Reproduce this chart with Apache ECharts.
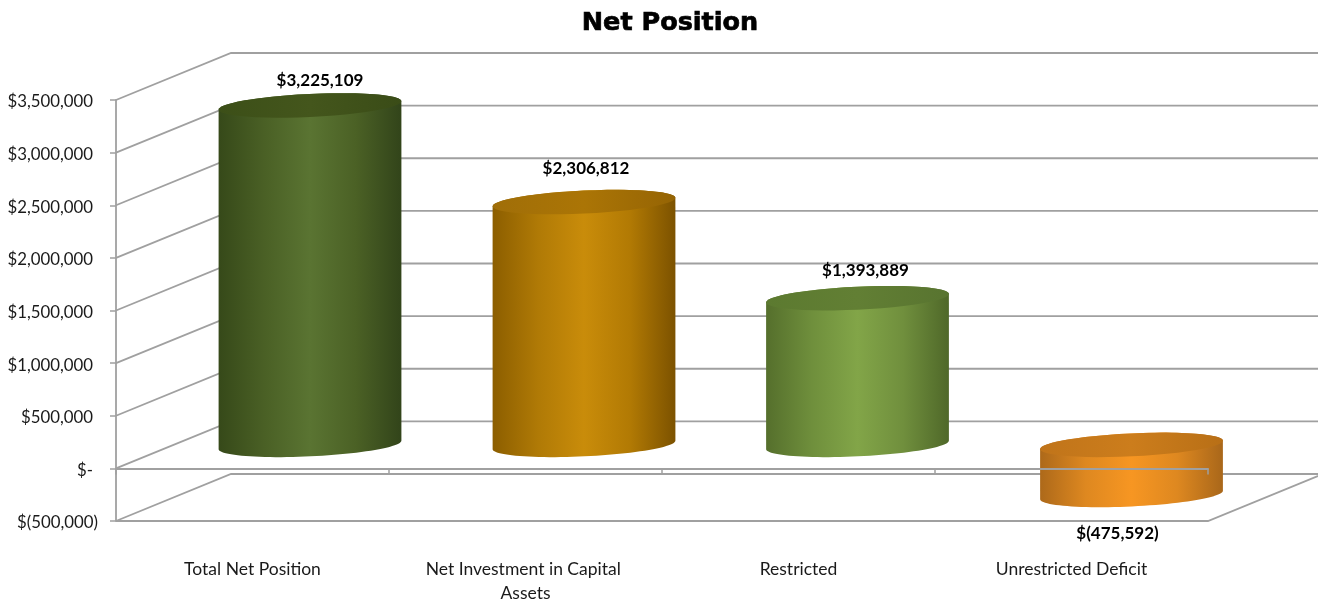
<!DOCTYPE html>
<html>
<head>
<meta charset="utf-8">
<style>html,body{margin:0;padding:0;background:#fff}#c{width:1318px;height:601px}</style>
<script src="https://cdn.jsdelivr.net/npm/echarts@6/dist/echarts.min.js"></script>
</head>
<body>
<div id="c"></div>
<script>
const categories = ['Total Net Position', 'Net Investment in Capital Assets', 'Restricted', 'Unrestricted Deficit'];
const netValues = [3225109, 2306812, 1393889, -475592];
const yTicks = [-500000, 0, 500000, 1000000, 1500000, 2000000, 2500000, 3000000, 3500000];
const chartTitle = 'Net Position';

// styling
const bodyStops = [
  ['#364919', '#4a6025', '#5a7432', '#4b6125', '#32441a'],
  ['#8c5e00', '#b07a06', '#c98c0a', '#b27a04', '#7c5200'],
  ['#556f2c', '#6f8f3c', '#82a548', '#708f3d', '#4f6829'],
  ['#ad691a', '#de8820', '#f79622', '#de8820', '#a9671a']
];
const capStops = [
  ['#3c4f18', '#44561c', '#3a4c17'],
  ['#a06e08', '#ab7506', '#956404'],
  ['#5c7a30', '#627f34', '#587430'],
  ['#c0741a', '#cc7d1c', '#b86f16']
];
const labelNudge = [[10, -25], [2, -34], [8, -28], [-14, 39]];
const cylinderNudge = [0, 1, 1.5, 2.5];
const depth = [115, -47];
const gridColor = '#a0a0a0';
const textFont = 'Lato';

function money(v) {
  const s = Math.abs(v).toLocaleString('en-US');
  return v < 0 ? '$(' + s + ')' : '$' + s;
}
function stops(list) {
  return { type: 'linear', x: 0, y: 0, x2: 1, y2: 0,
    colorStops: list.map((c, i) => ({ offset: i / (list.length - 1), color: c })) };
}
function arc(cx, cy, rx, ry, from, to) {
  const tilt = -2.7 * Math.PI / 180, pts = [];
  for (let i = 0; i <= 48; i++) {
    const t = from + (to - from) * i / 48;
    const x = rx * Math.cos(t), y = ry * Math.sin(t);
    pts.push([cx + x * Math.cos(tilt) - y * Math.sin(tilt), cy + x * Math.sin(tilt) + y * Math.cos(tilt)]);
  }
  return pts;
}

function renderWall(params, api) {
  const cs = params.coordSys;
  const v = api.value(1);
  const y = api.coord([0, v])[1];
  const left = cs.x, right = cs.x + cs.width;
  const backY = y + depth[1];
  const lineStyle = { stroke: gridColor, lineWidth: 1.8, fill: null };
  const kids = [{
    type: 'polyline',
    shape: { points: [[left, y], [left + depth[0], backY], [right + depth[0], backY]] },
    style: lineStyle
  }];
  if (v === yTicks[0]) {
    kids.push({
      type: 'polyline',
      shape: { points: [[left, y], [right, y], [right + depth[0], backY]] },
      style: lineStyle
    });
  }
  return { type: 'group', children: kids };
}

function renderCylinder(params, api) {
  const i = params.dataIndex;
  const v = api.value(1);
  const base = api.coord([i, 0]);
  const head = api.coord([i, v]);
  const band = api.size([1, 0])[0];
  const rx = band / 3 + 0.5, ry = 11.5;
  const cx = base[0] + depth[0] / 2 + cylinderNudge[i];
  const yA = Math.min(base[1], head[1]) + depth[1] / 2;
  const yB = Math.max(base[1], head[1]) + depth[1] / 2;
  const body = arc(cx, yA, rx, ry, Math.PI, 2 * Math.PI).concat(arc(cx, yB, rx, ry, 0, Math.PI));
  const cap = arc(cx, yA, rx, ry, 0, 2 * Math.PI);
  const anchorY = v >= 0 ? yA : yB;
  return {
    type: 'group',
    children: [
      { type: 'polygon', shape: { points: body }, style: { fill: stops(bodyStops[i]) } },
      { type: 'polygon', shape: { points: cap }, style: { fill: stops(capStops[i]) } },
      { type: 'text', style: {
          x: cx + labelNudge[i][0], y: anchorY + labelNudge[i][1], text: money(v),
          fill: '#000', font: 'bold 17px ' + textFont, align: 'center', verticalAlign: 'middle' } }
    ]
  };
}

const chart = echarts.init(document.getElementById('c'), null, { renderer: 'canvas' });
chart.setOption({
  animation: false,
  backgroundColor: '#fff',
  title: {
    text: chartTitle, left: 665, top: 5, textAlign: 'center',
    textStyle: { fontFamily: 'DejaVu Sans', fontWeight: 'bold', fontSize: 25.5, color: '#000', textBorderColor: '#000', textBorderWidth: 0.7 }
  },
  grid: { left: 116, top: 100, width: 1092, height: 421, outerBoundsMode: 'none' },
  xAxis: [
    {
      type: 'category', data: categories, z: 5,
      axisLine: { onZero: true, lineStyle: { color: gridColor, width: 1.8 } },
      axisTick: { show: true, length: 6, lineStyle: { color: gridColor, width: 1.5 } },
      axisLabel: { show: false }
    },
    {
      type: 'category', data: categories, position: 'bottom', z: 5,
      axisLine: { show: false, onZero: false },
      axisTick: { show: false },
      axisLabel: { margin: 36.5, width: 225, overflow: 'break', lineHeight: 24, color: '#1a1a1a', fontFamily: textFont, fontSize: 17.5, interval: 0 }
    }
  ],
  yAxis: {
    type: 'value', min: -500000, max: 3500000, interval: 500000, z: 5,
    splitLine: { show: false },
    axisLine: { show: true, onZero: false, lineStyle: { color: gridColor, width: 1.8 } },
    axisTick: { show: true, length: 6, lineStyle: { color: gridColor, width: 1.5 } },
    axisLabel: {
      margin: 18, color: '#1a1a1a', fontFamily: textFont, fontSize: 16.8,
      formatter: v => v === 0 ? '{p|$-}' : v < 0 ? '{n|' + money(v) + '}' : '{p|' + money(v) + '}',
      rich: {
        p: { padding: [4, 5, 0, 0], color: '#1a1a1a', fontFamily: textFont, fontSize: 16.8 },
        n: { padding: [4, 0, 0, 0], color: '#1a1a1a', fontFamily: textFont, fontSize: 16.8 }
      }
    }
  },
  series: [
    { type: 'custom', z: 1, silent: true, renderItem: renderWall, encode: { x: 0, y: 1 },
      data: yTicks.map(v => [0, v]) },
    { type: 'custom', z: 2, silent: true, renderItem: renderCylinder, encode: { x: 0, y: 1 },
      data: netValues.map((v, i) => [i, v]) }
  ]
});
</script>
</body>
</html>
